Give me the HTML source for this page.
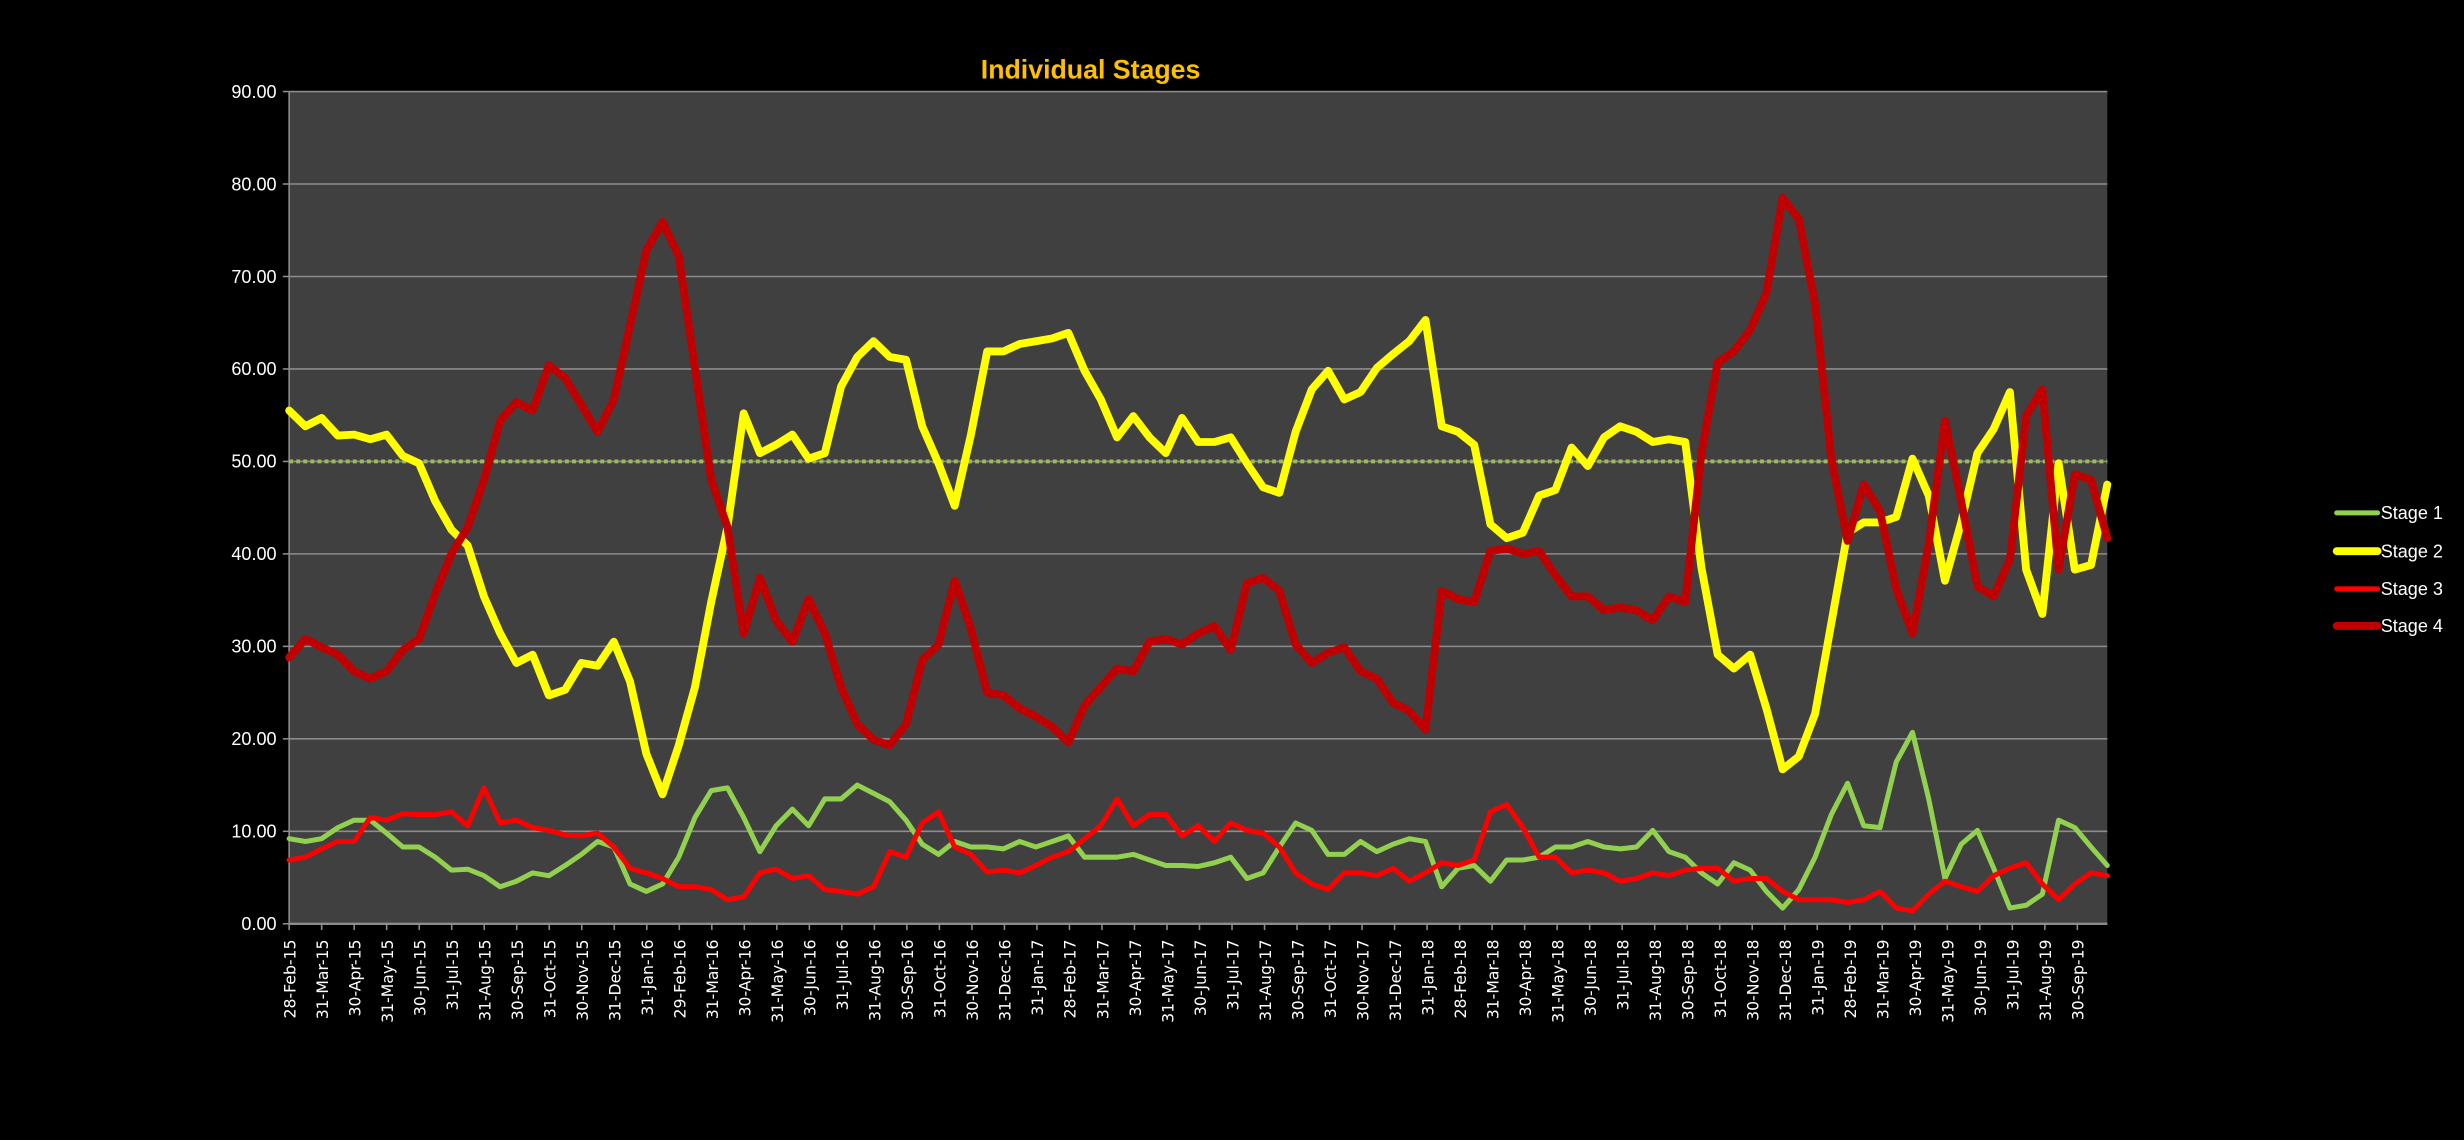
<!DOCTYPE html>
<html><head><meta charset="utf-8"><title>Individual Stages</title>
<style>html,body{margin:0;padding:0;background:#000;}svg{display:block;}</style></head>
<body>
<svg id="chart" xmlns="http://www.w3.org/2000/svg" width="2464" height="1140" viewBox="0 0 1568 726" preserveAspectRatio="none">
<rect x="0" y="0" width="1568" height="726" fill="#000"/>
<rect x="184" y="58.3" width="1157" height="530" fill="#404040"/>
<text x="694" y="50" text-anchor="middle" fill="#FFC000" font-family="'Liberation Sans Narrow','Liberation Sans',sans-serif" font-weight="bold" font-size="17">Individual Stages</text>
<g id="grid"></g><g id="yaxis"></g><g id="xaxis"></g><g id="series"></g><g id="legend"></g>
</svg>
<script>
const categories = ["28-Feb-15","31-Mar-15","30-Apr-15","31-May-15","30-Jun-15","31-Jul-15","31-Aug-15","30-Sep-15","31-Oct-15","30-Nov-15","31-Dec-15","31-Jan-16","29-Feb-16","31-Mar-16","30-Apr-16","31-May-16","30-Jun-16","31-Jul-16","31-Aug-16","30-Sep-16","31-Oct-16","30-Nov-16","31-Dec-16","31-Jan-17","28-Feb-17","31-Mar-17","30-Apr-17","31-May-17","30-Jun-17","31-Jul-17","31-Aug-17","30-Sep-17","31-Oct-17","30-Nov-17","31-Dec-17","31-Jan-18","28-Feb-18","31-Mar-18","30-Apr-18","31-May-18","30-Jun-18","31-Jul-18","31-Aug-18","30-Sep-18","31-Oct-18","30-Nov-18","31-Dec-18","31-Jan-19","28-Feb-19","31-Mar-19","30-Apr-19","31-May-19","30-Jun-19","31-Jul-19","31-Aug-19","30-Sep-19"];
const yTicks = [0,10,20,30,40,50,60,70,80,90];
const seriesNames = ["Stage 1","Stage 2","Stage 3","Stage 4"];
const threshold = [50];
const stage1 = [9.2,8.9,9.2,10.4,11.2,11.2,9.8,8.3,8.3,7.2,5.8,5.9,5.2,4,4.6,5.5,5.2,6.3,7.5,8.9,8.3,4.3,3.5,4.3,7.2,11.5,14.4,14.7,
11.5,7.8,10.6,12.4,10.6,13.5,13.5,15,14.1,13.2,11.2,8.6,7.5,8.9,8.3,8.3,8.1,8.9,8.3,8.9,9.5,7.2,7.2,7.2,7.5,6.9,6.3,6.3,
6.2,6.6,7.2,4.9,5.5,8.3,10.9,10.1,7.5,7.5,8.9,7.8,8.6,9.2,8.9,4,6,6.3,4.6,6.9,6.9,7.2,8.3,8.3,8.9,8.3,8.1,8.3,
10.1,7.8,7.2,5.5,4.3,6.6,5.8,3.5,1.7,3.7,7.2,11.8,15.2,10.6,10.4,17.5,20.7,13.5,4.9,8.6,10.1,6,1.7,2,3.2,11.2,10.4,8.3,6.3];
const stage2 = [55.5,53.8,54.7,52.8,52.9,52.4,52.9,50.6,49.8,45.7,42.6,40.9,35.4,31.4,28.2,29.1,24.7,25.3,28.2,27.9,30.5,26.2,18.4,14.0,19.3,25.6,34.8,42.9,
55.2,50.9,51.8,52.9,50.3,50.9,58.1,61.3,63,61.3,61,53.8,49.8,45.2,52.9,61.9,61.9,62.7,63,63.3,63.9,59.8,56.7,52.6,54.9,52.6,50.9,54.7,
52.1,52.1,52.6,49.8,47.2,46.6,53.2,57.8,59.8,56.7,57.5,60.1,61.6,63,65.3,53.8,53.2,51.8,43.2,41.7,42.3,46.3,46.9,51.5,49.5,52.6,53.8,53.2,
52.1,52.4,52.1,38.5,29.1,27.6,29.1,23.3,16.7,18.1,22.7,32.5,42.3,43.4,43.4,44,50.3,46.3,37.1,43.4,50.9,53.5,57.5,38.3,33.5,49.8,38.3,38.8,47.5];
const stage3 = [6.9,7.2,8.1,8.9,8.9,11.5,11.2,11.9,11.8,11.8,12.1,10.6,14.7,10.9,11.2,10.4,10.1,9.6,9.5,9.8,8.3,6,5.5,4.9,4,4,3.7,2.6,
2.9,5.5,5.9,4.9,5.2,3.7,3.5,3.2,4,7.8,7.2,10.9,12.1,8.3,7.5,5.6,5.8,5.5,6.3,7.2,7.8,9.2,10.6,13.5,10.6,11.8,11.8,9.5,
10.6,8.9,10.9,10.1,9.8,8.3,5.5,4.3,3.7,5.5,5.5,5.2,6,4.6,5.5,6.6,6.3,6.9,12.1,12.9,10.4,7.2,7.2,5.5,5.8,5.5,4.6,4.9,
5.5,5.2,5.8,6,6,4.6,4.9,4.9,3.5,2.6,2.6,2.6,2.3,2.6,3.5,1.7,1.4,3.2,4.6,4,3.5,5.2,6,6.6,4.3,2.6,4.3,5.5,5.2];
const stage4 = [28.8,30.8,29.9,29.1,27.3,26.5,27.3,29.6,30.8,35.7,40,42.9,48,54.4,56.4,55.5,60.4,59,56.1,53.2,56.7,64.7,72.8,75.9,72.2,60.1,48,42.9,
31.4,37.4,32.8,30.5,35.1,31.4,25.6,21.6,19.9,19.3,21.6,28.5,30.2,37.1,31.9,25,24.7,23.3,22.4,21.3,19.6,23.6,25.6,27.6,27.3,30.5,30.8,30.2,
31.4,32.2,29.6,36.8,37.4,36,30.2,28.2,29.3,29.9,27.3,26.5,23.9,23,21,36,35.1,34.8,40.3,40.6,40,40.3,37.7,35.4,35.4,33.9,34.2,33.9,
32.8,35.4,34.8,50.9,60.7,61.9,64.2,68.2,78.5,76.2,67,50.3,41.4,47.5,44.6,36.2,31.4,41.1,54.4,45.7,36.5,35.4,39.4,54.9,57.8,38.3,48.6,48,41.7];

const NS = "http://www.w3.org/2000/svg";
const X0 = 184, X1 = 1341, Y0 = 588.3, Y90 = 58.3;
function yScale(v){ return Y0 - (v/90)*(Y0-Y90); }
function xIndex(i, n){ return X0 + i*(X1-X0)/(n-1); }
function xMonth(m){ return X0 + m*20.69; }
function mk(tag, attrs, parent){ const e=document.createElementNS(NS,tag); for(const k in attrs) e.setAttribute(k,attrs[k]); parent.appendChild(e); return e; }

const grid = document.getElementById('grid');
const yaxis = document.getElementById('yaxis');
yTicks.forEach(function(t){
  const gl = mk('line',{x1:X0,x2:X1,y1:yScale(t),y2:yScale(t),stroke:'#8c8c8c','stroke-width':1},grid);
  
  
  const tk = mk('line',{x1:X0-4,x2:X0,y1:yScale(t),y2:yScale(t),stroke:'#8c8c8c','stroke-width':1},yaxis);
  
  
  const lb = mk('text',{x:176,y:yScale(t)+4,'text-anchor':'end',fill:'#fff','font-size':11.5,'font-family':"'Liberation Sans Narrow','Liberation Sans',sans-serif"},yaxis);
  lb.textContent = t.toFixed(2);
  
  
});
const yl = mk('line',{x1:X0,x2:X0,y1:Y90,y2:Y0,stroke:'#8c8c8c','stroke-width':1},yaxis);



const xaxis = document.getElementById('xaxis');
const xl = mk('line',{x1:X0,x2:X1,y1:Y0,y2:Y0,stroke:'#8c8c8c','stroke-width':1.5},xaxis);


categories.forEach(function(c,m){
  const x = xMonth(m);
  const tk = mk('line',{x1:x,x2:x,y1:Y0,y2:Y0+4,stroke:'#8c8c8c','stroke-width':1},xaxis);
  
  
  const lb = mk('text',{x:0,y:0,'text-anchor':'end',fill:'#fff','font-size':10,'font-family':"'DejaVu Sans',sans-serif",transform:'translate('+(x+4)+','+(Y0+10)+') rotate(-90)'},xaxis);
  lb.textContent = c;
  
  
});

const series = document.getElementById('series');
const th = mk('line',{x1:X0,x2:X1,y1:yScale(threshold[0]),y2:yScale(threshold[0]),stroke:'#9BBB59','stroke-width':2.5,'stroke-dasharray':'2.5 2'},series);



function drawSeries(data, color, width, name){
  const n = data.length;
  let d = '';
  data.forEach(function(v,i){ d += (i?'L':'M') + xIndex(i,n).toFixed(2) + ',' + yScale(v).toFixed(2); });
  const p = mk('path',{d:d,fill:'none',stroke:color,'stroke-width':width,'stroke-linejoin':'round','stroke-linecap':'round'},series);
  
  
}
drawSeries(stage2,'#FFFF00',5,'stage-2-line');
drawSeries(stage4,'#C00000',5,'stage-4-line');
drawSeries(stage1,'#92D050',3.2,'stage-1-line');
drawSeries(stage3,'#FF0000',3.2,'stage-3-line');

const legend = document.getElementById('legend');
const legColors = ['#92D050','#FFFF00','#FF0000','#C00000'];
const legWidths = [3.2,5,3.2,5];
const legY = [326.6,351,375,398.6];
seriesNames.forEach(function(nm,k){
  const g = mk('g',{},legend);
  
  
  mk('line',{x1:1487,x2:1513,y1:legY[k],y2:legY[k],stroke:legColors[k],'stroke-width':legWidths[k],'stroke-linecap':'round'},g);
  const t = mk('text',{x:1515,y:legY[k]+4,fill:'#fff','font-size':11.5,'font-family':"'Liberation Sans Narrow','Liberation Sans',sans-serif"},g);
  t.textContent = nm;
});
</script>
</body></html>
